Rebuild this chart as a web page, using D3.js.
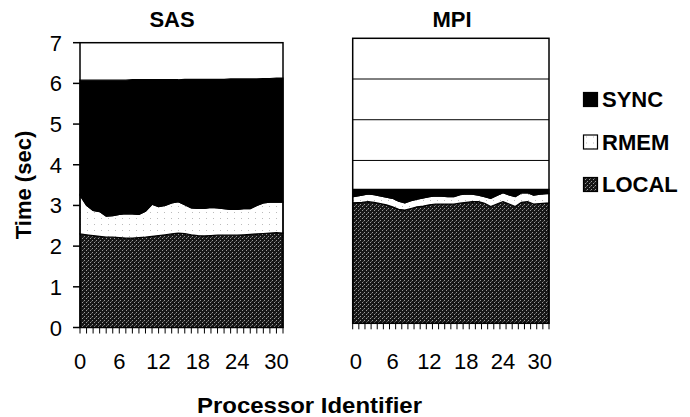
<!DOCTYPE html>
<html lang="en">
<head>
	<meta charset="utf-8">
	<title>SAS vs MPI time breakdown</title>
	<script src="https://cdn.jsdelivr.net/npm/d3@7"></script>
	<style>
		body { margin: 0; background: #fff; }
		text { font-family: "Liberation Sans", Arial, Helvetica, sans-serif; }
	</style>
</head>
<body>
	<script>
		// categories and ticks
		const processors = d3.range(32);
		const xTickLabels = [0, 6, 12, 18, 24, 30];
		const yTicks = [0, 1, 2, 3, 4, 5, 6, 7];
		const seriesNames = ["LOCAL", "RMEM", "SYNC"];

		// SAS values (sec), per processor
		const sasLocal = [2.30, 2.28, 2.26, 2.24, 2.22, 2.22, 2.21, 2.20, 2.20, 2.21, 2.22, 2.24, 2.26, 2.28, 2.30, 2.32,
			2.31, 2.28, 2.26, 2.25, 2.26, 2.27, 2.27, 2.27, 2.27, 2.28, 2.29, 2.30, 2.31, 2.32, 2.33, 2.32];
		const sasRmem = [0.95, 0.72, 0.62, 0.61, 0.52, 0.53, 0.57, 0.60, 0.59, 0.57, 0.64, 0.79, 0.71, 0.72, 0.76, 0.77,
			0.71, 0.66, 0.67, 0.68, 0.69, 0.67, 0.65, 0.63, 0.63, 0.64, 0.63, 0.70, 0.75, 0.76, 0.75, 0.76];
		const sasSync = [2.83, 3.08, 3.20, 3.23, 3.34, 3.33, 3.30, 3.28, 3.30, 3.31, 3.23, 3.06, 3.12, 3.09, 3.03, 3.00,
			3.08, 3.16, 3.17, 3.17, 3.15, 3.16, 3.18, 3.21, 3.21, 3.19, 3.19, 3.11, 3.06, 3.04, 3.05, 3.05];

		// MPI values (sec), per processor
		const mpiLocal = [2.96, 2.97, 2.99, 2.97, 2.94, 2.91, 2.86, 2.80, 2.78, 2.82, 2.86, 2.88, 2.91, 2.93, 2.93, 2.93,
			2.93, 2.95, 2.97, 2.99, 2.99, 2.95, 2.87, 2.93, 2.99, 2.93, 2.87, 2.97, 2.99, 2.93, 2.94, 2.96];
		const mpiRmem = [0.15, 0.18, 0.19, 0.19, 0.19, 0.19, 0.21, 0.20, 0.18, 0.19, 0.19, 0.20, 0.20, 0.20, 0.19, 0.18,
			0.18, 0.21, 0.21, 0.18, 0.16, 0.16, 0.20, 0.21, 0.22, 0.22, 0.24, 0.23, 0.22, 0.22, 0.23, 0.23];
		const mpiSync = [0.18, 0.14, 0.11, 0.13, 0.16, 0.19, 0.22, 0.29, 0.33, 0.28, 0.24, 0.21, 0.18, 0.16, 0.17, 0.18,
			0.18, 0.13, 0.11, 0.12, 0.14, 0.18, 0.22, 0.15, 0.08, 0.14, 0.18, 0.09, 0.08, 0.14, 0.12, 0.10];

		var w = 690;
		var h = 417;

		var svg = d3.select("body")
			.append("svg")
			.attr("width", w)
			.attr("height", h);

		svg.append("rect").attr("width", w).attr("height", h).attr("fill", "#fff");

		// textures for the scanned look
		const defs = svg.append("defs");
		const localPat = defs.append("pattern")
			.attr("id", "localFill")
			.attr("patternUnits", "userSpaceOnUse")
			.attr("width", 4).attr("height", 4);
		localPat.append("rect").attr("width", 4).attr("height", 4).attr("fill", "#161616");
		[[0, 0], [2, 2], [3, 1]].forEach(function (p, i) {
			localPat.append("rect").attr("x", p[0]).attr("y", p[1]).attr("width", 1).attr("height", 1)
				.attr("fill", i === 2 ? "#555" : "#9a9a9a");
		});
		const rmemPat = defs.append("pattern")
			.attr("id", "rmemFill")
			.attr("patternUnits", "userSpaceOnUse")
			.attr("width", 7).attr("height", 6);
		rmemPat.append("rect").attr("width", 7).attr("height", 6).attr("fill", "#fff");
		rmemPat.append("rect").attr("x", 3).attr("y", 2).attr("width", 1).attr("height", 1).attr("fill", "#bbb");

		const fills = { LOCAL: "url(#localFill)", RMEM: "url(#rmemFill)", SYNC: "#000" };

		function makeRows(local, rmem, sync) {
			return processors.map(function (p, i) {
				return { proc: p, LOCAL: local[i], RMEM: rmem[i], SYNC: sync[i] };
			});
		}

		const stack = d3.stack().keys(seriesNames);

		function drawPanel(cfg) {
			const yScale = d3.scaleLinear().domain([0, 7]).range([cfg.bottom, cfg.top]);
			const g = svg.append("g");

			// gridlines (only visible above the stacks)
			g.selectAll(".grid")
				.data(yTicks.slice(1, -1))
				.enter()
				.append("line")
				.attr("x1", cfg.left).attr("x2", cfg.right)
				.attr("y1", d => yScale(d)).attr("y2", d => yScale(d))
				.attr("stroke", cfg.grid ? "#000" : "none")
				.attr("stroke-width", 1);

			const layers = stack(makeRows(cfg.local, cfg.rmem, cfg.sync));
			const area = d3.area()
				.x(function (d, i) { return cfg.xArea(i); })
				.y0(d => yScale(d[0]))
				.y1(d => yScale(d[1]));

			g.selectAll(".layer")
				.data(layers)
				.enter()
				.append("path")
				.attr("d", area)
				.attr("fill", d => fills[d.key])
				.attr("stroke", "#000")
				.attr("stroke-width", 1.2);

			// frame
			g.append("rect")
				.attr("x", cfg.left).attr("y", cfg.top)
				.attr("width", cfg.right - cfg.left).attr("height", cfg.bottom - cfg.top)
				.attr("fill", "none").attr("stroke", "#000").attr("stroke-width", 1.5);

			// small category ticks
			g.selectAll(".xtick")
				.data(cfg.tickPos)
				.enter()
				.append("line")
				.attr("x1", d => d).attr("x2", d => d)
				.attr("y1", cfg.bottom).attr("y2", cfg.bottom + 6)
				.attr("stroke", "#000").attr("stroke-width", 1);

			g.selectAll(".xlabel")
				.data(xTickLabels)
				.enter()
				.append("text")
				.attr("x", d => cfg.xLabel(d))
				.attr("y", 369)
				.attr("text-anchor", "middle")
				.attr("font-size", "22px")
				.text(d => d);

			g.append("text")
				.attr("x", cfg.titleX)
				.attr("y", 27)
				.attr("text-anchor", "middle")
				.attr("font-size", "22px")
				.attr("font-weight", "bold")
				.text(cfg.title);

			if (cfg.yAxis) {
				g.selectAll(".ytick")
					.data(yTicks)
					.enter()
					.append("line")
					.attr("x1", cfg.left - 7).attr("x2", cfg.left)
					.attr("y1", d => yScale(d)).attr("y2", d => yScale(d))
					.attr("stroke", "#000").attr("stroke-width", 1.5);
				g.selectAll(".ylabel")
					.data(yTicks)
					.enter()
					.append("text")
					.attr("x", 62)
					.attr("y", d => yScale(d) + 8)
					.attr("text-anchor", "end")
					.attr("font-size", "22px")
					.text(d => d);
			}
		}

		// SAS: categories sit on the edges
		const xSas = d3.scaleLinear().domain([0, 31]).range([80, 283]);
		drawPanel({
			title: "SAS", titleX: 172,
			left: 80, right: 283, top: 42.7, bottom: 327.5,
			local: sasLocal, rmem: sasRmem, sync: sasSync,
			xArea: i => xSas(i),
			xLabel: d => xSas(d),
			tickPos: processors.map(p => xSas(p)),
			yAxis: true, grid: false
		});

		// MPI: categories sit between the ticks
		const xMpi = d3.scaleLinear().domain([-0.5, 31.5]).range([352.7, 549]);
		drawPanel({
			title: "MPI", titleX: 452,
			left: 352.7, right: 549, top: 38.3, bottom: 323.3,
			local: mpiLocal, rmem: mpiRmem, sync: mpiSync,
			xArea: i => xMpi(i === 0 ? -0.5 : (i === processors.length - 1 ? 31.5 : i)),
			xLabel: d => xMpi(d),
			tickPos: d3.range(33).map(k => xMpi(k - 0.5)),
			yAxis: false, grid: true
		});

		// axis titles
		svg.append("text")
			.attr("transform", "translate(31,185) rotate(-90)")
			.attr("text-anchor", "middle")
			.attr("font-size", "22px")
			.attr("font-weight", "bold")
			.text("Time (sec)");

		svg.append("text")
			.attr("x", 309.5)
			.attr("y", 413)
			.attr("text-anchor", "middle")
			.attr("font-size", "22px")
			.attr("font-weight", "bold")
			.attr("textLength", 225)
			.attr("lengthAdjust", "spacingAndGlyphs")
			.text("Processor Identifier");

		// legend (top to bottom: SYNC, RMEM, LOCAL)
		const legend = svg.selectAll(".legend")
			.data(seriesNames.slice().reverse())
			.enter()
			.append("g")
			.attr("transform", (d, i) => `translate(583, ${92 + i * 42.5})`);

		legend.append("rect")
			.attr("x", 0.5).attr("y", 0.5)
			.attr("width", 14).attr("height", 14)
			.attr("fill", d => fills[d])
			.attr("stroke", "#000").attr("stroke-width", 1.2);

		legend.append("text")
			.attr("x", 19)
			.attr("y", 15)
			.attr("font-size", "22px")
			.attr("font-weight", "bold")
			.text(d => d);
	</script>
</body>
</html>
